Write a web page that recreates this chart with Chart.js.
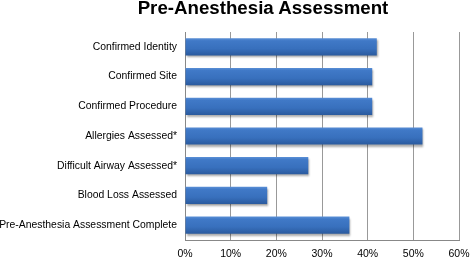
<!DOCTYPE html>
<html><head><meta charset="utf-8">
<script src="https://cdn.jsdelivr.net/npm/chart.js@4/dist/chart.umd.min.js"></script>
<style>
html,body{margin:0;padding:0;background:#fff;}
#wrap{position:relative;width:471px;height:258px;}
#title{position:absolute;left:0;top:-3px;width:526px;text-align:center;font:bold 18.7px "Liberation Sans",Arial,sans-serif;color:#000;}
canvas{position:absolute;left:0;top:0;}
</style></head>
<body><div id="wrap"><canvas id="c" width="471" height="258"></canvas><div id="title">Pre-Anesthesia Assessment</div></div>
<script>
const categories = ["Confirmed Identity","Confirmed Site","Confirmed Procedure","Allergies Assessed*","Difficult Airway Assessed*","Blood Loss Assessed","Pre-Anesthesia Assessment Complete"];
const percentValues = [42,41,41,52,27,18,36];
const tickLabels = ["0%","10%","20%","30%","40%","50%","60%"];

const BAR_PCT = 0.58;
function barFill(ctx){
  const chart = ctx.chart;
  const ys = chart.scales && chart.scales.y;
  const area = chart.chartArea;
  if(!ys || !area || ctx.dataIndex === undefined) return '#3b72c0';
  const c = ys.getPixelForValue(ctx.dataIndex);
  const band = (area.bottom - area.top)/categories.length;
  const h = band*BAR_PCT/2;
  const g = chart.ctx.createLinearGradient(0,c-h,0,c+h);
  g.addColorStop(0,'#5a8fd6');
  g.addColorStop(0.15,'#4079c7');
  g.addColorStop(0.6,'#3870bd');
  g.addColorStop(1,'#2a5a9e');
  return g;
}
const shadowPlugin = {
  id:'shadow',
  beforeDatasetDraw(chart){const c=chart.ctx;c.save();c.shadowColor='rgba(0,0,0,0.35)';c.shadowOffsetX=1;c.shadowOffsetY=2;c.shadowBlur=2;},
  afterDatasetDraw(chart){chart.ctx.restore();}
};
const chart = new Chart(document.getElementById('c'),{
  type:'bar',
  data:{labels:categories,datasets:[{data:percentValues,backgroundColor:barFill,borderWidth:0,barPercentage:BAR_PCT,categoryPercentage:1}]},
  options:{
    indexAxis:'y',responsive:false,animation:false,
    layout:{padding:{top:32,right:0,bottom:0,left:0}},
    plugins:{legend:{display:false},tooltip:{enabled:false},title:{display:false}},
    scales:{
      x:{min:0,max:60,
        afterFit(s){s.height=18;s.paddingRight=12;s.paddingLeft=0;},
        ticks:{stepSize:10,padding:8,color:'#000',font:{family:'"Liberation Sans", Arial, sans-serif',size:10.5},callback:(v,i)=>tickLabels[i]},
        grid:{color:'#999',lineWidth:1,drawTicks:false},
        border:{color:'#888',width:1}},
      y:{
        afterFit(s){s.width=185;},
        ticks:{padding:8,color:'#000',font:{family:'"Liberation Sans", Arial, sans-serif',size:10.4}},
        grid:{display:false,drawTicks:false},
        border:{color:'#888',width:1}}
    }
  },
  plugins:[shadowPlugin]
});
chart.update();
</script></body></html>
